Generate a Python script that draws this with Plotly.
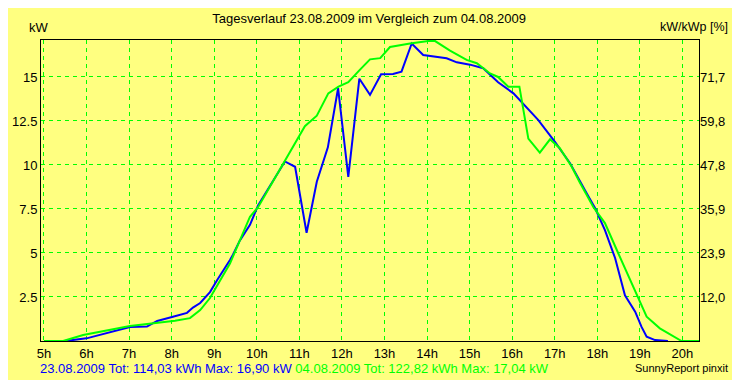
import plotly.graph_objects as go

# 23.08.2009 (blue) - time in hours, power in kW
blue_h = [5.0, 5.49, 6.0, 6.32, 7.02, 7.42, 7.66, 8.03, 8.36, 8.5, 8.67, 8.9, 9.07, 9.37, 9.44, 9.6,
          9.84, 10.03, 10.66, 10.9, 11.17, 11.41, 11.67, 11.91, 12.15, 12.41, 12.66, 12.92, 13.2,
          13.4, 13.64, 13.91, 14.46, 14.7, 15.01, 15.32, 15.67, 16.03, 16.61, 17.01, 17.36, 17.75,
          17.95, 18.18, 18.42, 18.65, 18.89, 19.04, 19.16, 19.36, 19.66]
blue_kw = [0, 0, 0.15, 0.35, 0.8, 0.82, 1.14, 1.38, 1.6, 1.9, 2.16, 2.78, 3.47, 4.6, 4.9, 5.7,
           6.6, 7.7, 10.2, 9.9, 6.15, 9.05, 11.0, 14.36, 9.33, 14.9, 13.98, 15.15, 15.17,
           15.3, 16.9, 16.25, 16.06, 15.83, 15.7, 15.5, 14.7, 14.07, 12.56, 11.3, 10.1, 8.4,
           7.54, 6.3, 4.7, 2.6, 1.67, 0.8, 0.24, 0.05, 0]

# 04.08.2009 (green)
green_h = [5.0, 5.45, 5.92, 7.02, 8.08, 8.43, 8.67, 8.9, 9.37, 9.84, 10.03, 10.7, 10.86, 11.13,
           11.41, 11.68, 11.92, 12.15, 12.42, 12.66, 12.9, 13.13, 13.6, 14.03, 14.19, 14.54, 14.93,
           15.17, 15.48, 15.67, 15.91, 16.17, 16.38, 16.65, 16.89, 17.12, 17.4, 17.59, 17.91,
           18.18, 18.49, 18.96, 19.16, 19.47, 19.87, 19.98, 20.39]
green_kw = [0, 0, 0.34, 0.85, 1.15, 1.3, 1.76, 2.44, 4.4, 7.06, 7.6, 10.4, 11.1, 12.2,
            12.8, 14.07, 14.45, 14.7, 15.4, 16.0, 16.07, 16.7, 16.9, 17.04, 17.04, 16.5, 15.97,
            15.78, 15.2, 15.0, 14.45, 14.45, 11.5, 10.7, 11.46, 10.95, 9.9, 9.0, 7.6,
            6.7, 5.0, 2.5, 1.38, 0.72, 0.15, 0, 0]

x_ticks = list(range(5, 21))
x_labels = [f"{h}h" for h in x_ticks]
y_ticks = [2.5, 5, 7.5, 10, 12.5, 15]
y_labels = ["2.5", "5", "7.5", "10", "12.5", "15"]
y2_labels = ["12,0", "23,9", "35,9", "47,8", "59,8", "71,7"]

BG = "#FFFF80"
GRID = "#00FF00"
FONT = "Liberation Sans, Arial, sans-serif"
FS = 13

# page body has an 8px default margin; figure is sized so that it fills the 740x380 window
W, H = 732, 372

fig = go.Figure()
fig.add_trace(go.Scatter(x=blue_h, y=blue_kw, mode="lines",
                         line=dict(color="#0000FF", width=2), showlegend=False))
fig.add_trace(go.Scatter(x=green_h, y=green_kw, mode="lines",
                         line=dict(color="#00FF00", width=2), showlegend=False))
# invisible trace to activate right axis
fig.add_trace(go.Scatter(x=[5], y=[0], yaxis="y2", mode="markers",
                         marker=dict(opacity=0), showlegend=False, hoverinfo="skip"))

fig.update_layout(
    width=W, height=H,
    margin=dict(l=33, r=41, t=32, b=39, autoexpand=False),
    paper_bgcolor=BG, plot_bgcolor=BG,
    font=dict(family=FONT, size=FS, color="black"),
    title=dict(text="Tagesverlauf 23.08.2009 im Vergleich zum 04.08.2009",
               x=(373 - 8) / W, xanchor="center", xref="paper", y=1 - 10 / H, yanchor="middle",
               font=dict(size=FS), automargin=False),
    xaxis=dict(range=[4.93, 20.39], tickvals=x_ticks, ticktext=x_labels,
               showgrid=True, gridcolor=GRID, griddash="4px,4px", gridwidth=1,
               showline=True, linecolor="black", linewidth=1, mirror=True,
               ticks="", zeroline=False, automargin=False, tickfont=dict(size=FS)),
    yaxis=dict(range=[0, 17.1], tickvals=y_ticks, ticktext=y_labels,
               showgrid=True, gridcolor=GRID, griddash="4px,4px", gridwidth=1,
               showline=True, linecolor="black", linewidth=1, mirror=True,
               ticks="", zeroline=False, automargin=False, tickfont=dict(size=FS)),
    yaxis2=dict(range=[0, 17.1], tickvals=y_ticks, ticktext=y2_labels,
                overlaying="y", side="right", showgrid=False, ticks="",
                zeroline=False, showline=False, automargin=False, tickfont=dict(size=FS)),
    annotations=[
        dict(text="kW", xref="paper", yref="paper", x=-14 / 658, y=1 + 13 / 301,
             xanchor="left", yanchor="middle", showarrow=False, font=dict(size=FS)),
        dict(text="kW/kWp [%]", xref="paper", yref="paper", x=1 + 31 / 658, y=1 + 13 / 301,
             xanchor="right", yanchor="middle", showarrow=False, font=dict(size=12.5)),
        dict(text='<span style="color:#0000FF">23.08.2009 Tot: 114,03 kWh Max: 16,90 kW</span> '
                  '<span style="color:#00FF00">04.08.2009 Tot: 122,82 kWh Max: 17,04 kW</span>',
             xref="paper", yref="paper", x=-3 / 658, y=-27 / 301,
             xanchor="left", yanchor="middle", showarrow=False, font=dict(size=FS)),
        dict(text="SunnyReport pinxit", xref="paper", yref="paper", x=1 + 31 / 658, y=-27 / 301,
             xanchor="right", yanchor="middle", showarrow=False, font=dict(size=11)),
    ],
)

fig.write_html("out.html")
